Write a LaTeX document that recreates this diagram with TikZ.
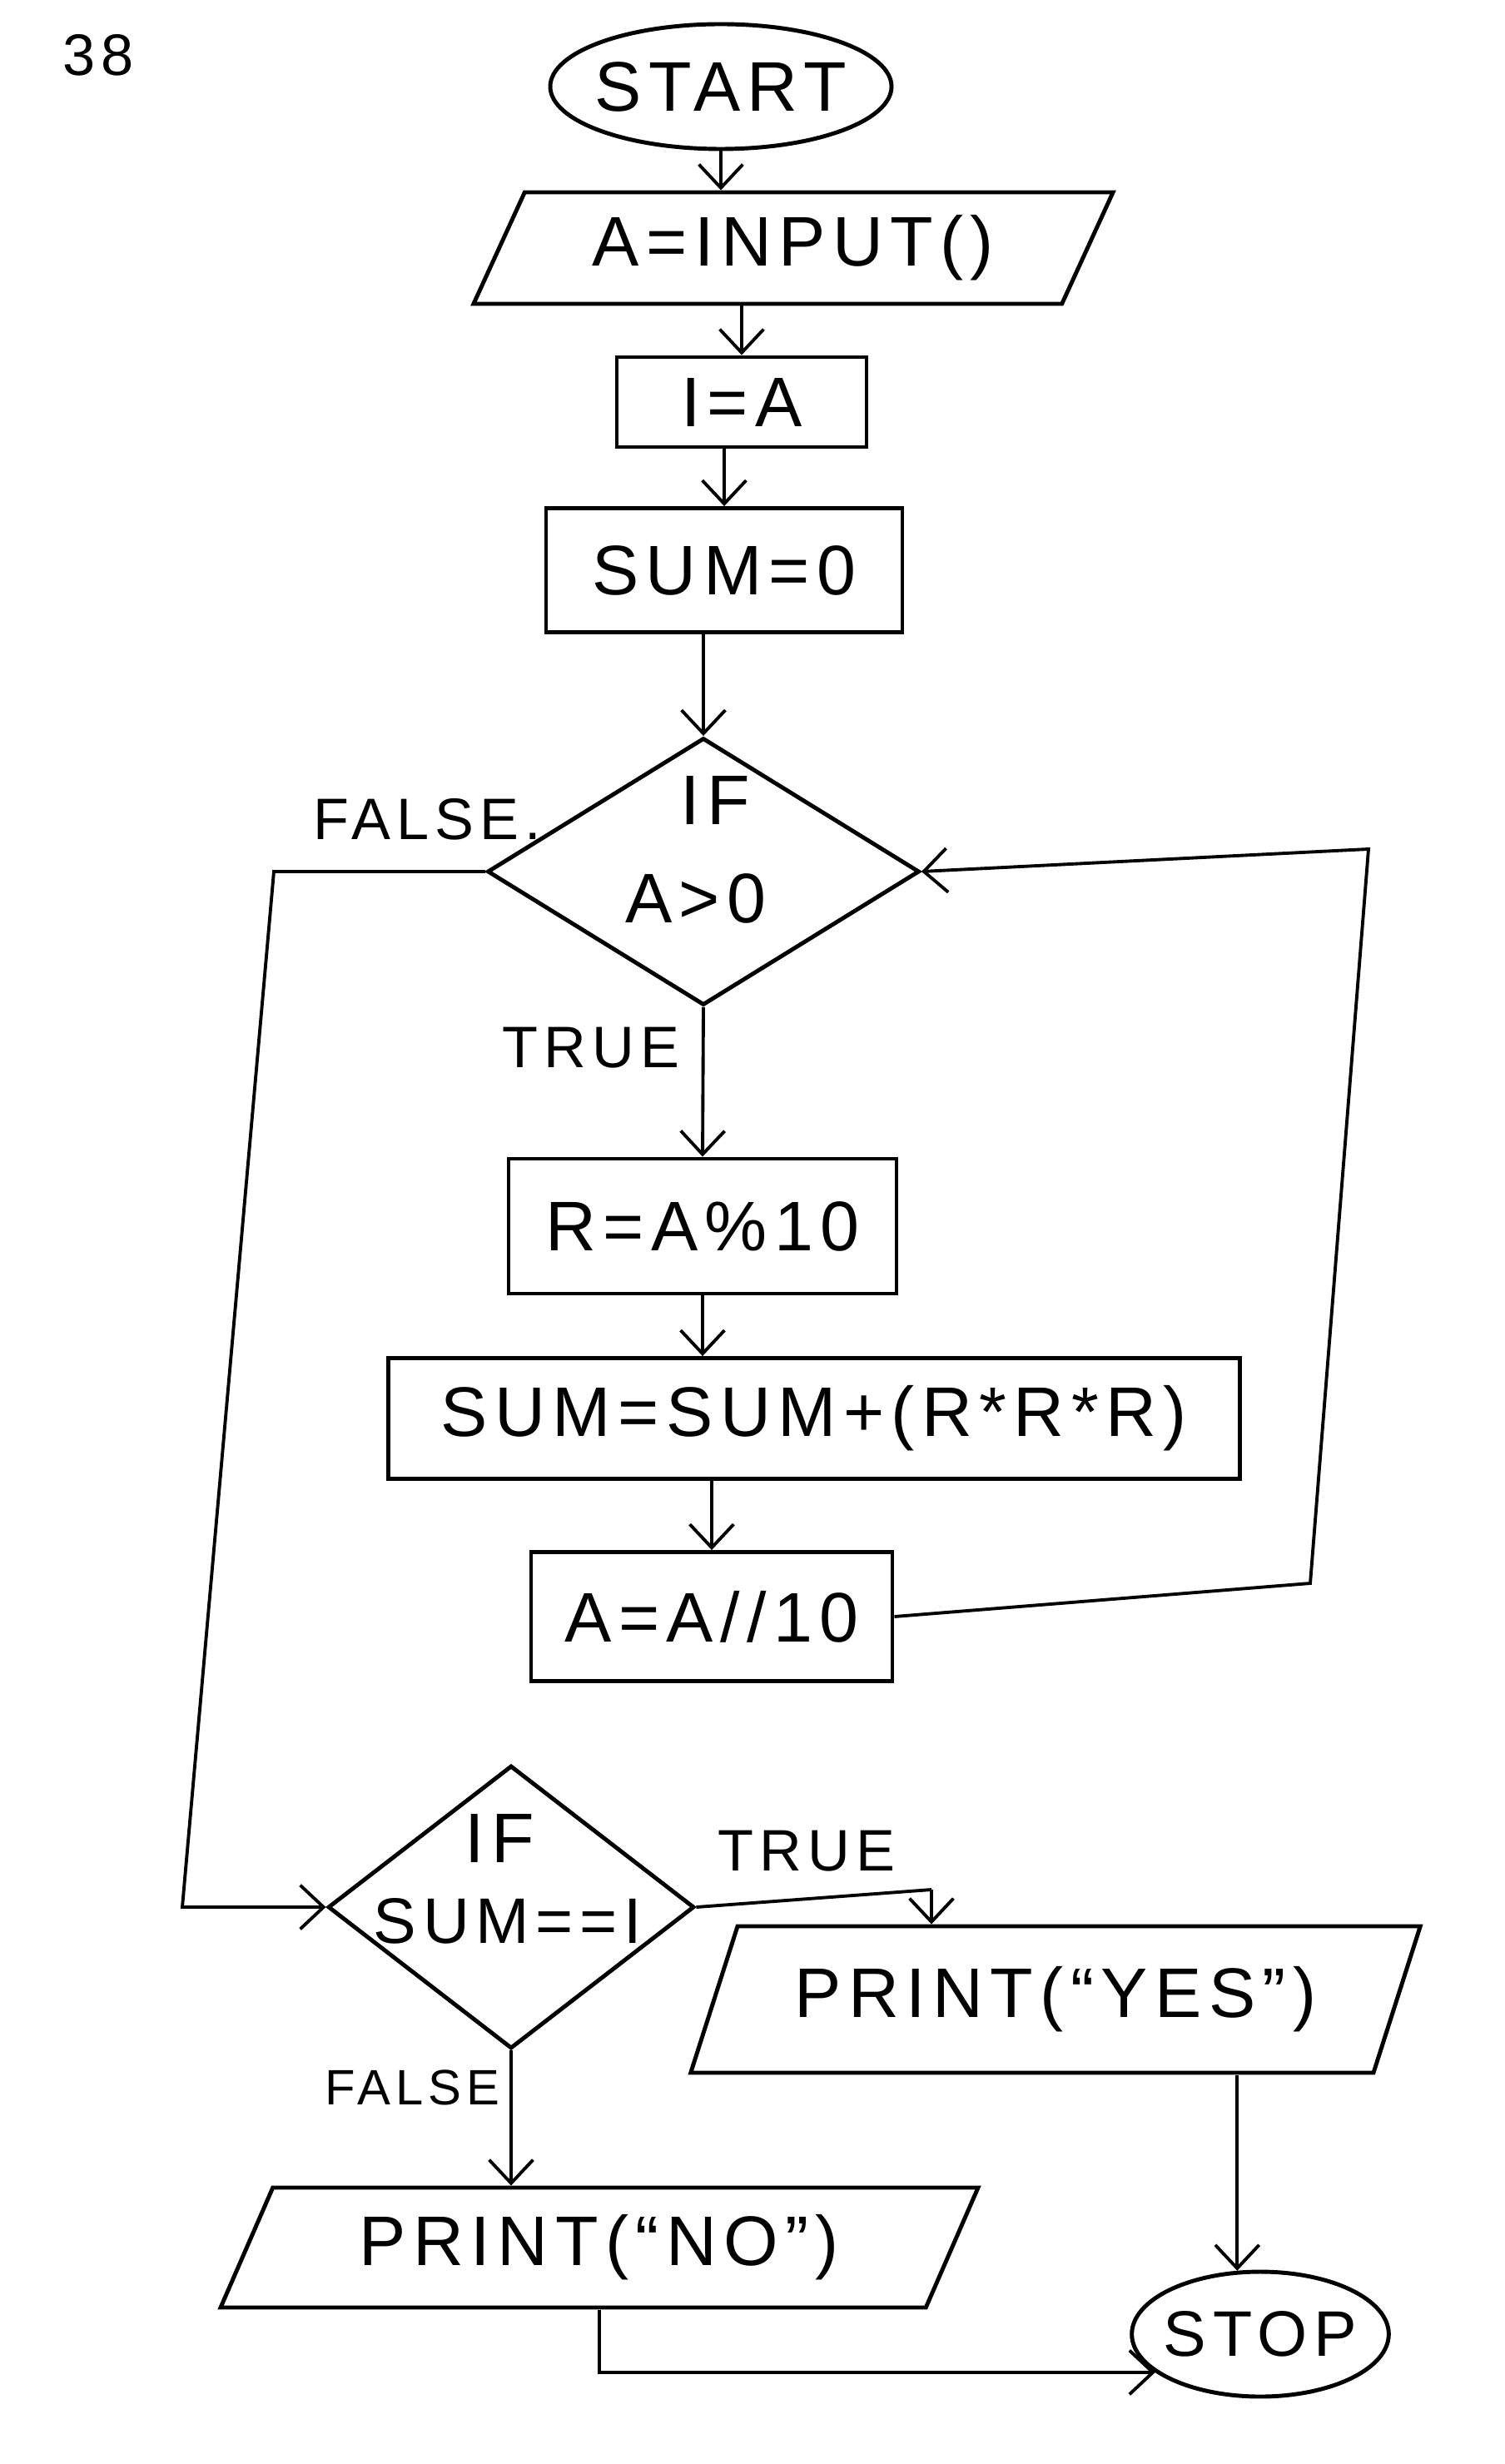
\documentclass[tikz,border=0pt]{standalone}
\usepackage{fontspec}
\setmainfont{Liberation Sans}[LetterSpace=10]
\usetikzlibrary{shapes.geometric,arrows.meta}

\tikzset{
	base/.style={draw,line width=1.4pt,inner sep=2pt,font=\fontsize{24}{28}\selectfont},
	term/.style={base,ellipse,inner xsep=-2pt},
	io/.style={base,trapezium,trapezium left angle=63,trapezium right angle=117,trapezium stretches=true},
	proc/.style={base,rectangle},
	dec/.style={draw,line width=1.4pt,diamond,inner sep=0pt},
	txt/.style={inner sep=1pt,font=\fontsize{24}{28}\selectfont},
	lbl/.style={inner sep=1pt,font=\fontsize{20}{24}\selectfont},
	ln/.style={line width=1.1pt},
	arr/.style={ln,-{Straight Barb[length=8pt,width=15pt]}}
}

\begin{document}
\begin{tikzpicture}
	\useasboundingbox (0,0) rectangle (18.08,-29.60);
	\node[lbl] (num) at (1.18,-0.66) {38};
	\node[term,minimum width=4.1cm,minimum height=1.5cm] (start) at (8.66,-1.04) {START};
	\node[io,minimum width=7.7cm,minimum height=1.34cm] (inp) at (9.53,-2.98) {A=INPUT()};
	\node[proc,minimum width=3.0cm,minimum height=1.08cm] (ia) at (8.91,-4.83) {I=A};
	\node[proc,minimum width=4.28cm,minimum height=1.49cm] (sum0) at (8.70,-6.85) {SUM=0};
	\node[dec,minimum width=5.19cm,minimum height=3.21cm] (d1) at (8.45,-10.47) {};
	\node[txt] (d1if) at (8.59,-9.61) {IF};
	\node[txt] (d1t) at (8.36,-10.79) {A>0};
	\node[proc,minimum width=4.66cm,minimum height=1.62cm] (rbox) at (8.44,-14.73) {R=A\%10};
	\node[proc,minimum width=10.23cm,minimum height=1.45cm] (sumbox) at (9.78,-17.04) {SUM=SUM+(R*R*R)};
	\node[proc,minimum width=4.34cm,minimum height=1.55cm] (adiv) at (8.55,-19.42) {A=A//10};
	\node[dec,minimum width=4.4cm,minimum height=3.40cm] (d2) at (6.14,-22.91) {};
	\node[txt] (d2if) at (6.00,-22.08) {IF};
	\node[txt,font=\fontsize{22}{26}\selectfont] (d2t) at (6.10,-23.08) {SUM==I};
	\node[io,minimum width=8.77cm,minimum height=1.76cm] (yes) at (12.68,-24.02) {PRINT(``YES'')};
	\node[io,minimum width=9.11cm,minimum height=1.44cm] (no) at (7.20,-27.00) {PRINT(``NO'')};
	\node[term,minimum width=2.94cm,minimum height=1.5cm,font=\fontsize{22}{26}\selectfont] (stop) at (15.14,-28.04) {STOP};
	%labels
	\node[lbl] (f1lbl) at (5.13,-9.84) {FALSE.};
	\node[lbl] (t1lbl) at (7.10,-12.59) {TRUE};
	\node[lbl] (t2lbl) at (9.69,-22.24) {TRUE};
	\node[lbl,font=\fontsize{17}{20}\selectfont] (f2lbl) at (4.95,-25.08) {FALSE};
	%fleches
	\draw[arr] (start.south) -- (start.south |- inp.north);
	\draw[arr] (ia.north |- inp.south) -- (ia.north);
	\draw[arr] (sum0.north |- ia.south) -- (sum0.north);
	\draw[arr] (d1.north |- sum0.south) -- (d1.north);
	\draw[arr] (d1.south) -- (rbox.north);
	\draw[arr] (rbox.south) -- (rbox.south |- sumbox.north);
	\draw[arr] (adiv.north |- sumbox.south) -- (adiv.north);
	%boucle
	\coordinate (b1) at (15.74,-19.02);
	\coordinate (b2) at (16.44,-10.20);
	\draw[arr] (adiv.east) -- (b1) -- (b2) -- (d1.east);
	%sortie
	\coordinate (f1) at (3.29,-10.47);
	\coordinate (f2) at (2.19,-22.91);
	\draw[arr] (d1.west) -- (f1) -- (f2) -- (d2.west);
	\coordinate (t1) at (11.19,-22.70);
	\draw[ln] (d2.east) -- (t1);
	\draw[arr] (t1) -- (t1 |- yes.north);
	\draw[arr] (d2.south) -- (d2.south |- no.north);
	\draw[arr] (yes.south -| stop.110) -- (stop.110);
	\draw[arr] (no.south) |- (stop.200);
\end{tikzpicture}
\end{document}
